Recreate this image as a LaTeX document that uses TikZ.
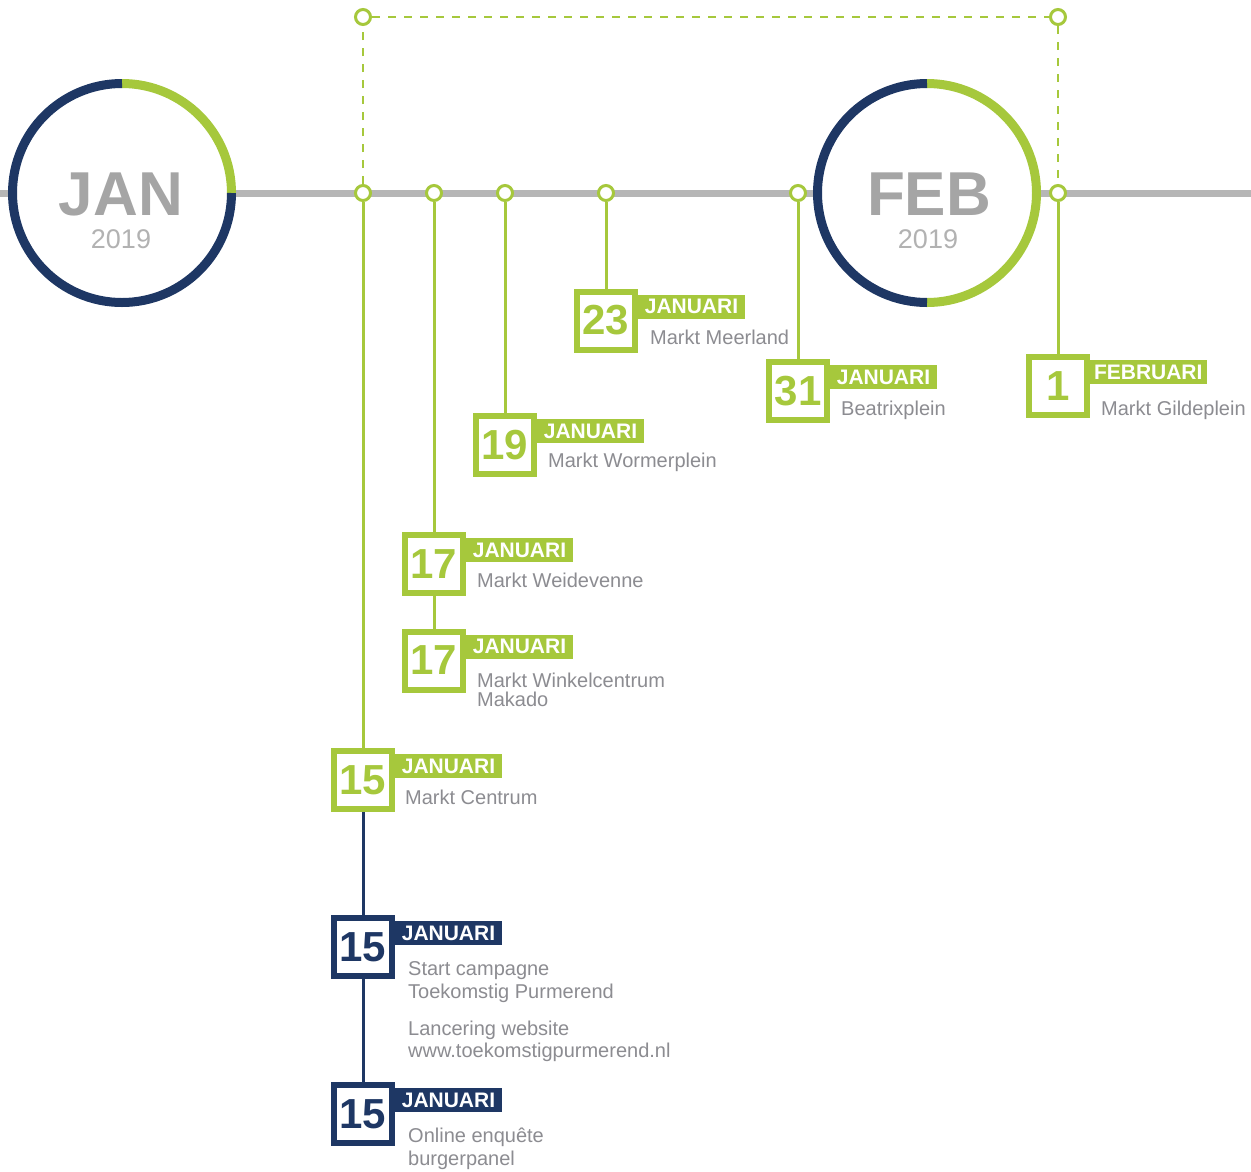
\documentclass[tikz,border=0pt]{standalone}
\usepackage{fontspec}
\setmainfont{Liberation Sans}
\definecolor{lg}{RGB}{166,200,60}
\definecolor{nv}{RGB}{30,55,100}
\definecolor{gl}{RGB}{182,182,182}
\definecolor{tg}{RGB}{140,140,145}
\definecolor{mg}{RGB}{165,165,165}
\definecolor{yg}{RGB}{178,178,178}
\begin{document}
\begin{tikzpicture}[x=1pt,y=-1pt,
  dotnode/.style={circle, draw=lg, fill=white, line width=3pt, minimum size=15pt, inner sep=0pt},
  datebox/.style={rectangle, draw=#1, fill=white, line width=6pt, minimum size=58pt, inner sep=0pt, text=#1, font=\bfseries\fontsize{42}{42}\selectfont},
  tagbox/.style={fill=#1, text=white, font=\bfseries\fontsize{21}{21}\selectfont, minimum height=24pt, minimum width=107pt, inner xsep=4pt, inner ysep=0pt, anchor=north west, outer sep=0pt},
  desctext/.style={text=tg, font=\fontsize{20}{20}\selectfont, anchor=base west, inner sep=0pt},
  gline/.style={draw=lg, line width=3pt},
  nline/.style={draw=nv, line width=3pt},
  dline/.style={draw=lg, line width=2.6pt, dash pattern=on 8pt off 8pt},
  ringnode/.style={circle, fill=white, minimum size=228pt, inner sep=0pt},
  monthtext/.style={anchor=base, text=mg, font=\bfseries\fontsize{62}{62}\selectfont, inner sep=0pt},
  yeartext/.style={anchor=base, text=yg, font=\fontsize{27}{27}\selectfont, inner sep=0pt}
]
\useasboundingbox (0,0) rectangle (1251,1171);
\fill[white] (0,0) rectangle (1251,1171);

% main grey line
\coordinate (lw) at (0,193);
\coordinate (le) at (1251,193);
\draw[gl, line width=7pt] (lw) -- (le);

% month circles
\node[ringnode] (jan) at (122,193) {};
\draw[lg, line width=9pt] ([shift={(90:109.5pt)}]jan.center) arc[start angle=90, end angle=0, radius=109.5pt];
\draw[nv, line width=9pt] ([shift={(0:109.5pt)}]jan.center) arc[start angle=0, end angle=-270, radius=109.5pt];
\node[monthtext] (jant) at (121,215) {JAN};
\node[yeartext] (jany) at (121,248) {2019};

\node[ringnode] (feb) at (927,193) {};
\draw[lg, line width=9pt] ([shift={(90:109.5pt)}]feb.center) arc[start angle=90, end angle=-90, radius=109.5pt];
\draw[nv, line width=9pt] ([shift={(90:109.5pt)}]feb.center) arc[start angle=90, end angle=270, radius=109.5pt];
\node[monthtext] (febt) at (929,215) {FEB};
\node[yeartext] (feby) at (928,248) {2019};

% dots
\node[dotnode] (t1) at (363,17) {};
\node[dotnode] (t2) at (1058,17) {};
\node[dotnode] (d1) at (363,193) {};
\node[dotnode] (d2) at (434,193) {};
\node[dotnode] (d3) at (505,193) {};
\node[dotnode] (d4) at (606,193) {};
\node[dotnode] (d5) at (798,193) {};
\node[dotnode] (d6) at (1058,193) {};

% date boxes
\node[datebox=lg] (b23) at (606,320.5) {23};
\node[datebox=lg] (b31) at (798,391) {31};
\node[datebox=lg] (b1) at (1058,386) {1};
\node[datebox=lg] (b19) at (505,445) {19};
\node[datebox=lg] (b17a) at (434,564) {17};
\node[datebox=lg] (b17b) at (434,660.5) {17};
\node[datebox=lg] (b15g) at (363,780) {15};
\node[datebox=nv] (b15n1) at (363,947) {15};
\node[datebox=nv] (b15n2) at (363,1114) {15};

% connectors
\draw[dline] (d1) -- (t1) -- (t2) -- (d6);
\draw[gline] (d1) -- (b15g);
\draw[nline] (b15g) -- (b15n1);
\draw[nline] (b15n1) -- (b15n2);
\draw[gline] (d2) -- (b17a);
\draw[gline] (b17a) -- (b17b);
\draw[gline] (d3) -- (b19);
\draw[gline] (d4) -- (b23);
\draw[gline] (d5) -- (b31);
\draw[gline] (d6) -- (b1);

% tags
\node[tagbox=lg] (g23) at ([yshift=-6pt]b23.north east) {JANUARI};
\node[tagbox=lg] (g31) at ([yshift=-6pt]b31.north east) {JANUARI};
\node[tagbox=lg] (g1) at ([yshift=-6pt]b1.north east) {FEBRUARI};
\node[tagbox=lg] (g19) at ([yshift=-6pt]b19.north east) {JANUARI};
\node[tagbox=lg] (g17a) at ([yshift=-6pt]b17a.north east) {JANUARI};
\node[tagbox=lg] (g17b) at ([yshift=-6pt]b17b.north east) {JANUARI};
\node[tagbox=lg] (g15g) at ([yshift=-6pt]b15g.north east) {JANUARI};
\node[tagbox=nv] (g15n1) at ([yshift=-6pt]b15n1.north east) {JANUARI};
\node[tagbox=nv] (g15n2) at ([yshift=-6pt]b15n2.north east) {JANUARI};

% descriptions
\node[desctext] (e23) at (650,344) {Markt Meerland};
\node[desctext] (e31) at (841,415) {Beatrixplein};
\node[desctext] (e1) at (1101,415) {Markt Gildeplein};
\node[desctext] (e19) at (548,467) {Markt Wormerplein};
\node[desctext] (e17a) at (477,587) {Markt Weidevenne};
\node[desctext] (e17b) at (477,687) {Markt Winkelcentrum};
\node[desctext] (e17c) at (477,706) {Makado};
\node[desctext] (e15g) at (405,804) {Markt Centrum};
\node[desctext] (e15a) at (408,975) {Start campagne};
\node[desctext] (e15b) at (408,998) {Toekomstig Purmerend};
\node[desctext] (e15c) at (408,1035) {Lancering website};
\node[desctext] (e15d) at (408,1057) {www.toekomstigpurmerend.nl};
\node[desctext] (e15e) at (408,1142) {Online enquête};
\node[desctext] (e15f) at (408,1165) {burgerpanel};
\end{tikzpicture}
\end{document}
